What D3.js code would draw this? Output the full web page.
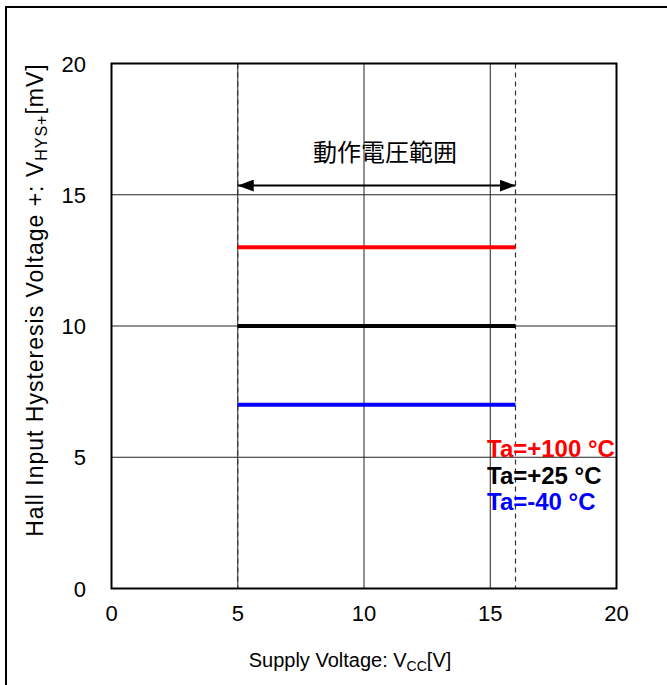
<!DOCTYPE html>
<html><head><meta charset="utf-8">
<script src="https://cdn.jsdelivr.net/npm/d3@7/dist/d3.min.js"></script>
<style>body{margin:0;background:#fff}svg{display:block}text{font-family:"Liberation Sans",Arial,sans-serif}</style>
</head><body><svg id="c" width="667" height="685"></svg>
<script>
const xTicks = [0, 5, 10, 15, 20];
const yTicks = [0, 5, 10, 15, 20];
const seriesNames = ["Ta=+100 °C", "Ta=+25 °C", "Ta=-40 °C"];
const seriesColors = ["#ff0000", "#000000", "#0000ff"];
const seriesX = [5, 16];
const seriesValues = [[13, 13], [10, 10], [7, 7]];
const rangeBounds = [5, 16];
const rangeArrowY = 15.35;
const rangeLabel = "動作電圧範囲";

const svg = d3.select("#c");
const m = {l: 111.5, t: 63.5, r: 616.5, b: 588.5};
const x = d3.scaleLinear().domain([0, 20]).range([m.l, m.r]);
const y = d3.scaleLinear().domain([0, 20]).range([m.b, m.t]);

// outer border
svg.append("rect").attr("x", 6).attr("y", 7).attr("width", 720).attr("height", 720)
  .attr("fill", "none").attr("stroke", "#000").attr("stroke-width", 2);

// gridlines
const g = svg.append("g");
g.selectAll(".gx").data(xTicks.slice(1, -1)).join("line")
  .attr("x1", d => x(d)).attr("x2", d => x(d)).attr("y1", m.t).attr("y2", m.b)
  .attr("stroke", "#222").attr("stroke-width", 1);
g.selectAll(".gy").data(yTicks.slice(1, -1)).join("line")
  .attr("y1", d => y(d)).attr("y2", d => y(d)).attr("x1", m.l).attr("x2", m.r)
  .attr("stroke", "#222").attr("stroke-width", 1);

// dashed range bounds
g.selectAll(".rb").data(rangeBounds).join("line")
  .attr("x1", d => x(d)).attr("x2", d => x(d)).attr("y1", m.t).attr("y2", m.b)
  .attr("stroke", "#333").attr("stroke-width", 1.2).attr("stroke-dasharray", "5,4");

// frame
svg.append("rect").attr("x", m.l).attr("y", m.t).attr("width", m.r - m.l).attr("height", m.b - m.t)
  .attr("fill", "none").attr("stroke", "#000").attr("stroke-width", 2);

// series
const line = d3.line().x((d, i) => x(seriesX[i])).y(d => y(d));
svg.selectAll(".s").data(seriesValues).join("path")
  .attr("d", d => line(d)).attr("fill", "none")
  .attr("stroke", (d, i) => seriesColors[i]).attr("stroke-width", 4);

// arrow
const defs = svg.append("defs");
defs.append("marker").attr("id", "ah").attr("viewBox", "0 0 16 12").attr("refX", 16).attr("refY", 6)
  .attr("markerWidth", 16).attr("markerHeight", 12).attr("markerUnits", "userSpaceOnUse")
  .attr("orient", "auto-start-reverse")
  .append("path").attr("d", "M0,0 L16,6 L0,12 Z").attr("fill", "#000");
svg.append("line").attr("x1", x(rangeBounds[0])).attr("x2", x(rangeBounds[1]))
  .attr("y1", y(rangeArrowY)).attr("y2", y(rangeArrowY))
  .attr("stroke", "#000").attr("stroke-width", 2)
  .attr("marker-start", "url(#ah)").attr("marker-end", "url(#ah)");
svg.append("text").attr("x", 385).attr("y", 161).attr("text-anchor", "middle")
  .style("font-family", "'Noto Sans CJK JP',sans-serif").style("font-size", "24px")
  .text(rangeLabel);

// tick labels
svg.selectAll(".xt").data(xTicks).join("text")
  .attr("x", d => x(d)).attr("y", 621).attr("text-anchor", "middle")
  .style("font-size", "22px").text(d => d);
svg.selectAll(".yt").data(yTicks).join("text")
  .attr("x", 86).attr("y", d => y(d) + 8).attr("text-anchor", "end")
  .style("font-size", "22px").text(d => d);

// axis titles
const xt = svg.append("text").attr("x", 350).attr("y", 667).attr("text-anchor", "middle").style("font-size", "20px");
xt.append("tspan").text("Supply Voltage: V");
xt.append("tspan").attr("dy", 4).style("font-size", "14px").text("CC");
xt.append("tspan").attr("dy", -4).text("[V]");

const yt = svg.append("text").attr("transform", "translate(43,300) rotate(-90)")
  .attr("text-anchor", "middle").style("font-size", "23px").style("letter-spacing", "1px");
yt.append("tspan").text("Hall Input Hysteresis Voltage +: V");
yt.append("tspan").attr("dy", 4).style("font-size", "16px").text("HYS+");
yt.append("tspan").attr("dy", -4).text("[mV]");

// legend
svg.selectAll(".lg").data(seriesNames).join("text")
  .attr("x", 487).attr("y", (d, i) => 457 + i * 26.5)
  .attr("fill", (d, i) => seriesColors[i])
  .style("font-size", "24px").style("font-weight", "bold").text(d => d);
</script></body></html>
